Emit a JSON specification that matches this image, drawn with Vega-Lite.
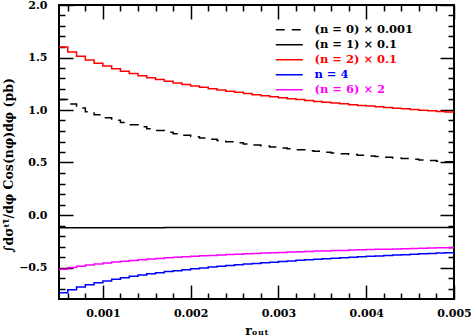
{
  "$schema": "https://vega.github.io/schema/vega-lite/v6.json",
  "width": 395,
  "height": 294,
  "autosize": {"type": "none"},
  "padding": {"left": 59, "top": 5, "right": 17, "bottom": 37},
  "background": "white",
  "config": {
    "view": {"stroke": "black", "strokeWidth": 2},
    "axis": {
      "domain": false, "grid": false, "tickColor": "black", "tickWidth": 1.5,
      "labelFont": "DejaVu Serif", "labelFontWeight": "bold", "labelFontSize": 11, "labelColor": "black",
      "titleFont": "DejaVu Serif", "titleFontWeight": "bold", "titleFontSize": 11, "titleColor": "black",
      "labelFlush": false, "labelOverlap": false
    }
  },
  "data": {"values": [
    {"x": 0.0005, "n0": 1.101, "n1": -0.121, "n2": 1.600, "n4": -0.740, "n6": -0.517},
    {"x": 0.0006, "n0": 1.056, "n1": -0.121, "n2": 1.553, "n4": -0.711, "n6": -0.501},
    {"x": 0.0007, "n0": 1.018, "n1": -0.121, "n2": 1.513, "n4": -0.686, "n6": -0.488},
    {"x": 0.0008, "n0": 0.984, "n1": -0.121, "n2": 1.477, "n4": -0.664, "n6": -0.476},
    {"x": 0.0009, "n0": 0.954, "n1": -0.121, "n2": 1.446, "n4": -0.645, "n6": -0.466},
    {"x": 0.0010, "n0": 0.927, "n1": -0.121, "n2": 1.418, "n4": -0.628, "n6": -0.456},
    {"x": 0.0011, "n0": 0.902, "n1": -0.121, "n2": 1.392, "n4": -0.612, "n6": -0.448},
    {"x": 0.0012, "n0": 0.880, "n1": -0.121, "n2": 1.369, "n4": -0.598, "n6": -0.440},
    {"x": 0.0013, "n0": 0.859, "n1": -0.121, "n2": 1.347, "n4": -0.584, "n6": -0.433},
    {"x": 0.0014, "n0": 0.840, "n1": -0.121, "n2": 1.327, "n4": -0.572, "n6": -0.426},
    {"x": 0.0015, "n0": 0.822, "n1": -0.121, "n2": 1.308, "n4": -0.560, "n6": -0.420},
    {"x": 0.0016, "n0": 0.805, "n1": -0.121, "n2": 1.290, "n4": -0.550, "n6": -0.414},
    {"x": 0.0017, "n0": 0.789, "n1": -0.119, "n2": 1.274, "n4": -0.539, "n6": -0.408},
    {"x": 0.0018, "n0": 0.774, "n1": -0.119, "n2": 1.258, "n4": -0.530, "n6": -0.403},
    {"x": 0.0019, "n0": 0.760, "n1": -0.119, "n2": 1.243, "n4": -0.521, "n6": -0.398},
    {"x": 0.0020, "n0": 0.746, "n1": -0.119, "n2": 1.229, "n4": -0.512, "n6": -0.393},
    {"x": 0.0021, "n0": 0.733, "n1": -0.119, "n2": 1.216, "n4": -0.504, "n6": -0.389},
    {"x": 0.0022, "n0": 0.721, "n1": -0.119, "n2": 1.203, "n4": -0.496, "n6": -0.385},
    {"x": 0.0023, "n0": 0.709, "n1": -0.119, "n2": 1.191, "n4": -0.488, "n6": -0.381},
    {"x": 0.0024, "n0": 0.698, "n1": -0.119, "n2": 1.179, "n4": -0.481, "n6": -0.377},
    {"x": 0.0025, "n0": 0.687, "n1": -0.119, "n2": 1.168, "n4": -0.474, "n6": -0.373},
    {"x": 0.0026, "n0": 0.677, "n1": -0.119, "n2": 1.157, "n4": -0.467, "n6": -0.369},
    {"x": 0.0027, "n0": 0.667, "n1": -0.119, "n2": 1.146, "n4": -0.461, "n6": -0.366},
    {"x": 0.0028, "n0": 0.657, "n1": -0.119, "n2": 1.136, "n4": -0.455, "n6": -0.362},
    {"x": 0.0029, "n0": 0.648, "n1": -0.119, "n2": 1.126, "n4": -0.449, "n6": -0.359},
    {"x": 0.0030, "n0": 0.639, "n1": -0.119, "n2": 1.117, "n4": -0.443, "n6": -0.356},
    {"x": 0.0031, "n0": 0.630, "n1": -0.119, "n2": 1.108, "n4": -0.438, "n6": -0.353},
    {"x": 0.0032, "n0": 0.622, "n1": -0.119, "n2": 1.099, "n4": -0.432, "n6": -0.350},
    {"x": 0.0033, "n0": 0.613, "n1": -0.118, "n2": 1.091, "n4": -0.427, "n6": -0.347},
    {"x": 0.0034, "n0": 0.606, "n1": -0.118, "n2": 1.082, "n4": -0.422, "n6": -0.344},
    {"x": 0.0035, "n0": 0.598, "n1": -0.118, "n2": 1.074, "n4": -0.417, "n6": -0.342},
    {"x": 0.0036, "n0": 0.590, "n1": -0.118, "n2": 1.066, "n4": -0.412, "n6": -0.339},
    {"x": 0.0037, "n0": 0.583, "n1": -0.118, "n2": 1.059, "n4": -0.407, "n6": -0.337},
    {"x": 0.0038, "n0": 0.576, "n1": -0.118, "n2": 1.051, "n4": -0.403, "n6": -0.334},
    {"x": 0.0039, "n0": 0.569, "n1": -0.118, "n2": 1.044, "n4": -0.398, "n6": -0.332},
    {"x": 0.0040, "n0": 0.562, "n1": -0.118, "n2": 1.037, "n4": -0.394, "n6": -0.329},
    {"x": 0.0041, "n0": 0.556, "n1": -0.118, "n2": 1.030, "n4": -0.390, "n6": -0.327},
    {"x": 0.0042, "n0": 0.549, "n1": -0.118, "n2": 1.024, "n4": -0.386, "n6": -0.325},
    {"x": 0.0043, "n0": 0.543, "n1": -0.118, "n2": 1.017, "n4": -0.382, "n6": -0.323},
    {"x": 0.0044, "n0": 0.537, "n1": -0.118, "n2": 1.011, "n4": -0.378, "n6": -0.321},
    {"x": 0.0045, "n0": 0.531, "n1": -0.118, "n2": 1.004, "n4": -0.374, "n6": -0.318},
    {"x": 0.0046, "n0": 0.525, "n1": -0.118, "n2": 0.998, "n4": -0.370, "n6": -0.316},
    {"x": 0.0047, "n0": 0.519, "n1": -0.118, "n2": 0.992, "n4": -0.367, "n6": -0.314},
    {"x": 0.0048, "n0": 0.513, "n1": -0.118, "n2": 0.986, "n4": -0.363, "n6": -0.312},
    {"x": 0.0049, "n0": 0.508, "n1": -0.118, "n2": 0.981, "n4": -0.359, "n6": -0.311},
    {"x": 0.0050, "n0": 0.508, "n1": -0.118, "n2": 0.981, "n4": -0.359, "n6": -0.311}
  ]},
  "transform": [{"fold": ["n0", "n1", "n2", "n4", "n6"], "as": ["series", "value"]}],
  "resolve": {"axis": {"x": "independent", "y": "independent"}},
  "layer": [
    {
      "mark": {"type": "line", "interpolate": "step-after", "strokeWidth": 1.5},
      "encoding": {
        "x": {"field": "x", "type": "quantitative",
          "scale": {"domain": [0.0005, 0.005], "nice": false, "zero": false},
          "axis": {"orient": "bottom", "values": [0.001, 0.002, 0.003, 0.004, 0.005], "format": ".3f", "tickSize": -14, "labelPadding": 22, "title": "rₒᵤₜ", "titleFontSize": 12.5, "titlePadding": 6}},
        "y": {"field": "value", "type": "quantitative",
          "scale": {"domain": [-0.8, 2.0], "nice": false, "zero": false},
          "axis": {"orient": "left", "values": [-0.5, 0, 0.5, 1, 1.5, 2], "format": ".1f", "tickSize": -14, "labelPadding": 26, "title": "∫dσᵗᵗ̄/dφ Cos(nφ)dφ (pb)", "titleFontSize": 12.5, "titlePadding": 3, "titleY": 160}},
        "color": {"field": "series", "type": "nominal",
          "scale": {"domain": ["n0", "n1", "n2", "n4", "n6"], "range": ["#000000", "#000000", "#ff0000", "#0000ff", "#ff00ff"]},
          "legend": {
            "orient": "none", "legendX": 215, "legendY": 19, "title": null, "padding": 0,
            "symbolType": "M-1,0H5.75", "symbolSize": 64, "symbolStrokeWidth": 1.5,
            "labelFont": "DejaVu Serif", "labelFontWeight": "bold", "labelFontSize": 11.5,
            "labelOffset": 29, "rowPadding": 2,
            "labelExpr": "datum.value == 'n0' ? '(n = 0) × 0.001' : datum.value == 'n1' ? '(n = 1) × 0.1' : datum.value == 'n2' ? '(n = 2) × 0.1' : datum.value == 'n4' ? 'n = 4' : '(n = 6) × 2'",
            "encode": {"labels": {"update": {"fill": {"scale": "color", "field": "value"}}}}
          }},
        "strokeDash": {"field": "series", "type": "nominal",
          "scale": {"domain": ["n0", "n1", "n2", "n4", "n6"], "range": [[9, 7], [1, 0], [1, 0], [1, 0], [1, 0]]},
          "legend": null}
      }
    },
    {
      "mark": {"type": "point", "opacity": 0},
      "encoding": {
        "x": {"field": "x", "type": "quantitative",
          "axis": {"orient": "bottom", "values": [0.0006, 0.0008, 0.0012, 0.0014, 0.0016, 0.0018, 0.0022, 0.0024, 0.0026, 0.0028, 0.0032, 0.0034, 0.0036, 0.0038, 0.0042, 0.0044, 0.0046, 0.0048], "tickSize": -6, "labels": false, "title": null}},
        "y": {"field": "value", "type": "quantitative",
          "axis": {"orient": "left", "values": [-0.7, -0.6, -0.4, -0.3, -0.2, -0.1, 0.1, 0.2, 0.3, 0.4, 0.6, 0.7, 0.8, 0.9, 1.1, 1.2, 1.3, 1.4, 1.6, 1.7, 1.8, 1.9], "tickSize": -6, "labels": false, "title": null}}
      }
    },
    {
      "mark": {"type": "point", "opacity": 0},
      "encoding": {
        "x": {"field": "x", "type": "quantitative",
          "axis": {"orient": "top", "values": [0.001, 0.002, 0.003, 0.004, 0.005], "tickSize": -14, "labels": false, "title": null}},
        "y": {"field": "value", "type": "quantitative",
          "axis": {"orient": "right", "values": [-0.5, 0, 0.5, 1, 1.5, 2], "tickSize": -14, "labels": false, "title": null}}
      }
    },
    {
      "mark": {"type": "point", "opacity": 0},
      "encoding": {
        "x": {"field": "x", "type": "quantitative",
          "axis": {"orient": "top", "values": [0.0006, 0.0008, 0.0012, 0.0014, 0.0016, 0.0018, 0.0022, 0.0024, 0.0026, 0.0028, 0.0032, 0.0034, 0.0036, 0.0038, 0.0042, 0.0044, 0.0046, 0.0048], "tickSize": -6, "labels": false, "title": null}},
        "y": {"field": "value", "type": "quantitative",
          "axis": {"orient": "right", "values": [-0.7, -0.6, -0.4, -0.3, -0.2, -0.1, 0.1, 0.2, 0.3, 0.4, 0.6, 0.7, 0.8, 0.9, 1.1, 1.2, 1.3, 1.4, 1.6, 1.7, 1.8, 1.9], "tickSize": -6, "labels": false, "title": null}}
      }
    }
  ]
}
